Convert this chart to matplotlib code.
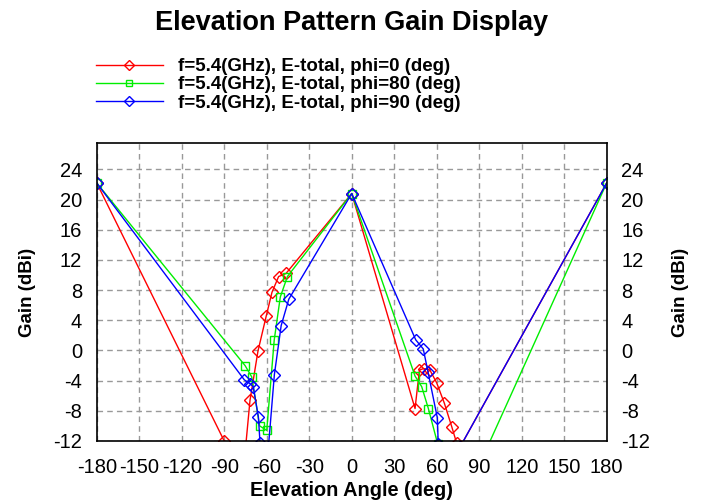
import numpy as np
import matplotlib.pyplot as plt
from matplotlib.ticker import FuncFormatter

plt.rcParams['font.family'] = ['Liberation Sans', 'DejaVu Sans']

# phi = 0 deg (values below -12 fall outside the axis and get clipped)
red_angle = [-180, -90, -75, -71.8, -66.2, -60.3, -56.3, -51.6, -46.4, 0,
             44.7, 47.8, 50.8, 55.2, 60.0, 65.4, 70.6, 74.1, 76.5, 180]
red_gain = [22.2, -12.0, -13.0, -6.6, -0.1, 4.6, 7.7, 9.8, 10.2, 20.8,
            -7.7, -2.6, -2.4, -2.6, -4.3, -7.0, -10.1, -12.3, -12.8, 22.2]

# phi = 80 deg
green_angle = [-180, -75.3, -70.6, -65.0, -60.0, -54.7, -50.4, -45.4, 0,
               44.7, 49.4, 54.1, 60.7, 90, 180]
green_gain = [22.2, -2.0, -3.5, -10.0, -10.6, 1.4, 7.1, 9.8, 20.8,
              -3.4, -4.8, -7.7, -12.4, -15.2, 22.2]

# phi = 90 deg
blue_angle = [-180, -75.8, -71.8, -69.5, -65.9, -64.7, -58.8, -54.6, -49.8, -44.4, 0,
              45.2, 50.5, 53.8, 60.4, 61.1, 76.5, 180]
blue_gain = [22.2, -3.9, -4.4, -4.8, -8.8, -12.3, -12.8, -3.2, 3.3, 6.8, 20.8,
             1.4, 0.2, -2.8, -8.9, -12.4, -12.8, 22.2]

labels = ['f=5.4(GHz), E-total, phi=0 (deg)',
          'f=5.4(GHz), E-total, phi=80 (deg)',
          'f=5.4(GHz), E-total, phi=90 (deg)']

x_ticks = list(range(-180, 181, 30))
y_ticks = list(range(-12, 25, 4))

fig = plt.figure(figsize=(7.04, 5.01), dpi=100)
ax = fig.add_axes([0.1374, 0.1198, 0.7244, 0.5948])

ax.plot(red_angle, red_gain, color='#ff0000', lw=1, marker='D', ms=5.8,
        mfc='none', mec='#ff0000', mew=1, label=labels[0])
ax.plot(green_angle, green_gain, color='#00ee00', lw=1, marker='s', ms=5.5,
        mfc='none', mec='#00ee00', mew=1, label=labels[1])
ax.plot(blue_angle, blue_gain, color='#0000ff', lw=1, marker='D', ms=5.8,
        mfc='none', mec='#0000ff', mew=1, label=labels[2])

ax.set_xlim(-180, 180)
ax.set_ylim(-12, 27.5)
ax.set_xticks(x_ticks)
ax.set_yticks(y_ticks)
fmt = FuncFormatter(lambda v, p: str(int(v)))
ax.xaxis.set_major_formatter(fmt)
ax.yaxis.set_major_formatter(fmt)
ax.tick_params(axis='both', length=0, labelsize=14.5)
ax.tick_params(axis='x', pad=12)
ax.tick_params(axis='y', pad=10.5, left=True, right=True, labelleft=True, labelright=True)
ax.grid(True, color='#999999', linestyle=(0, (4, 3)), lw=1)
for s in ax.spines.values():
    s.set_linewidth(1.2)

ax.set_xlabel('Elevation Angle (deg)', fontsize=14.3, fontweight='bold', labelpad=3)
for xpos in (-0.135, 1.144):
    ax.text(xpos, 0.5, 'Gain (dBi)', transform=ax.transAxes, rotation=90,
            ha='center', va='center', fontsize=13.5, fontweight='bold')

fig.text(0.5, 0.955, 'Elevation Pattern Gain Display', ha='center', va='center',
         fontsize=19.5, fontweight='bold')

fig.legend(loc='upper left', bbox_to_anchor=(0.112, 0.918), frameon=False,
           handlelength=3.6, handletextpad=0.8, labelspacing=0.06, markerscale=0.8,
           prop={'size': 13.5, 'weight': 'bold'})

plt.savefig('out.png', dpi=100)
